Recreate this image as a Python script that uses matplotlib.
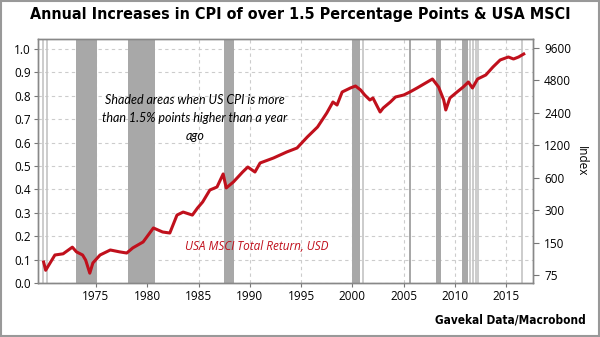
import matplotlib
matplotlib.use("Agg")
import matplotlib.pyplot as plt
from matplotlib.patches import Rectangle
import numpy as np

# USA MSCI total return index
anios = [1969.9, 1970.1, 1971.0, 1971.8, 1972.7, 1973.1, 1973.7, 1974.0, 1974.4, 1974.7,
         1975.4, 1976.4, 1977.3, 1978.0, 1978.6, 1979.6, 1980.6, 1981.5, 1982.2, 1982.9,
         1983.5, 1984.4, 1984.9, 1985.4, 1986.1, 1986.8, 1987.4, 1987.7, 1988.4, 1989.3,
         1989.8, 1990.5, 1991.0, 1992.3, 1993.6, 1994.6, 1995.6, 1996.6, 1997.5, 1998.1,
         1998.5, 1999.0, 1999.8, 2000.3, 2000.8, 2001.2, 2001.7, 2002.0, 2002.7, 2003.0,
         2003.7, 2004.2, 2005.0, 2005.6, 2006.3, 2007.3, 2007.8, 2008.4, 2008.9, 2009.1,
         2009.5, 2010.2, 2010.8, 2011.3, 2011.7, 2012.2, 2013.0, 2013.7, 2014.4, 2015.2,
         2015.7, 2016.2, 2016.7]
msci = [99, 83, 115, 118, 136, 123, 115, 103, 78, 97,
        115, 128, 123, 120, 134, 152, 205, 188, 184, 270,
        288, 270, 314, 357, 461, 492, 650, 482, 548, 678,
        754, 678, 822, 914, 1040, 1132, 1432, 1774, 2392, 3027,
        2838, 3749, 4082, 4260, 3912, 3515, 3158, 3297, 2444, 2662,
        3027, 3368, 3515, 3749, 4082, 4640, 4949, 4170, 3158, 2552,
        3297, 3749, 4170, 4640, 4082, 4949, 5390, 6396, 7430, 7920,
        7590, 7920, 8444]

# periodos con IPC > 1.5 pp sobre el año anterior
bandas_ini = [1973.05, 1978.1, 1987.5, 2000.0, 2005.5, 2008.1, 2010.7]
bandas_fin = [1975.1, 1980.75, 1988.45, 2000.75, 2005.75, 2008.65, 2011.3]
lineas_finas = [1969.8, 1970.2, 2001.0, 2011.5, 2011.75, 2012.0, 2012.2, 2016.5]

ticks_izq = [0.0, 0.1, 0.2, 0.3, 0.4, 0.5, 0.6, 0.7, 0.8, 0.9, 1.0]
ticks_der = [75, 150, 300, 600, 1200, 2400, 4800, 9600]
ticks_x = [1975, 1980, 1985, 1990, 1995, 2000, 2005, 2010, 2015]

plt.rcParams['font.family'] = ['Open Sans', 'DejaVu Sans']

fig = plt.figure(figsize=(6, 3.37), dpi=100)
ax = fig.add_axes([0.0633, 0.1602, 0.825, 0.7241])

gris = '#a8a8a8'
for a, b in zip(bandas_ini, bandas_fin):
    ax.axvspan(a, b, color=gris, lw=0, zorder=1)
for x in lineas_finas:
    ax.axvline(x, color='#c4c4c4', lw=1.2, zorder=1)

ax.set_xlim(1969.35, 2017.6)
ax.set_ylim(0, 1.043)
ax.set_xticks(ticks_x)
ax.set_yticks(ticks_izq)
ax.set_yticklabels([f"{v:.1f}" for v in ticks_izq])
ax.grid(True, color='#cccccc', linestyle=(0, (3, 3)), lw=0.8, zorder=0)
ax.set_axisbelow(True)
ax.tick_params(labelsize=8.5, length=3, color='#777777', pad=2)

ax2 = ax.twinx()
ax2.set_yscale('log', base=2)
ax2.set_ylim(63.2, 11637)
ax2.set_yticks(ticks_der)
ax2.set_yticklabels([str(v) for v in ticks_der])
ax2.minorticks_off()
ax2.tick_params(labelsize=8.5, length=4, color='#777777', pad=4)
ax2.plot(anios, msci, color='#c0101c', lw=2.2, zorder=3)
ax2.set_ylabel('Index', rotation=270, fontsize=8.5, labelpad=12)

for a in (ax, ax2):
    for s in a.spines.values():
        s.set_color('#888888')
        s.set_linewidth(1)

fig.text(195 / 600, 1 - 118 / 337,
         'Shaded areas when US CPI is more\nthan 1.5% points higher than a year\nago',
         family=['Lato', 'DejaVu Sans'], fontsize=9, style='italic',
         ha='center', va='center', linespacing=1.55)
fig.text(257 / 600, 1 - 247 / 337, 'USA MSCI Total Return, USD', color='#c0101c',
         fontsize=8.5, style='italic', ha='center', va='center')

fig.text(0.5, 1 - 15 / 337, 'Annual Increases in CPI of over 1.5 Percentage Points & USA MSCI',
         family=['DejaVu Sans'], stretch='condensed', fontsize=11.5, weight='bold',
         ha='center', va='center')
fig.text(586 / 600, 1 - 320 / 337, 'Gavekal Data/Macrobond',
         family=['DejaVu Sans'], stretch='condensed', fontsize=8.5, weight='bold',
         ha='right', va='center')

fig.patches.append(Rectangle((0.001, 0.002), 0.997, 0.995, transform=fig.transFigure,
                             fill=False, edgecolor='#999999', lw=1.5))

fig.savefig('out.png', dpi=100)
